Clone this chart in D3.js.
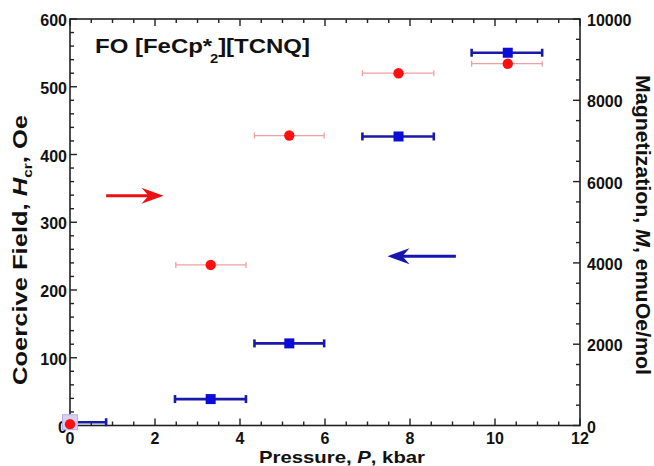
<!DOCTYPE html>
<html>
<head>
<meta charset="utf-8">
<script src="https://cdn.jsdelivr.net/npm/d3@7"></script>
<style>
  html, body { margin: 0; padding: 0; background: #fff; }
  svg { display: block; }
  text { font-family: "Liberation Sans", Arial, Helvetica, sans-serif; font-weight: bold; fill: #111; }
</style>
</head>
<body>
<svg id="chart" width="654" height="466"></svg>
<script>
// ---------- data ----------
const titleMain = "FO [FeCp*";
const titleSub = "2";
const titleEnd = "][TCNQ]";
const xLabel = ["Pressure, ", "P", ", kbar"];
const yLeftLabel = ["Coercive Field, ", "H", "cr", ", Oe"];
const yRightLabel = ["Magnetization, ", "M", ", emuOe/mol"];

const xTicks = [0, 2, 4, 6, 8, 10, 12];
const yLeftTicks = [0, 100, 200, 300, 400, 500, 600];
const yRightTicks = [0, 2000, 4000, 6000, 8000, 10000];

// Coercive field (left axis), red circles
const hcP    = [0,    3.31, 5.16, 7.73, 10.30];
const hcVal  = [2,    237,  428,  520,  534];
const hcPLo  = [null, 2.49, 4.34, 6.88, 9.45];
const hcPHi  = [null, 4.14, 5.98, 8.56, 11.11];

// Magnetization (right axis), blue squares
const mP     = [0,    3.31, 5.16, 7.73, 10.30];
const mVal   = [80,   650,  2020, 7110, 9170];
const mPLo   = [0,    2.47, 4.34, 6.88, 9.45];
const mPHi   = [0.85, 4.14, 5.98, 8.56, 11.11];

// annotation arrows (pressure from -> to, at a coercive-field level)
const arrowRed  = {from: 0.85, to: 2.20, level: 339};
const arrowBlue = {from: 9.08, to: 7.47, level: 250};

// ---------- layout ----------
const L = 70, R = 580, T = 19, B = 425.5;
const svg = d3.select("#chart");

const x = d3.scaleLinear().domain([0, 12]).range([L, R]);
const yL = d3.scaleLinear().domain([0, 600]).range([B, T]);
const yR = d3.scaleLinear().domain([0, 10000]).range([B, T]);

const axisColor = "#222";
const red = "#ff1010", redErr = "#f0a0a0";
const blue = "#0c0cd8", blueErr = "#1a1aa8";

// frame
svg.append("rect").attr("x", L).attr("y", T).attr("width", R - L).attr("height", B - T)
  .attr("fill", "none").attr("stroke", axisColor).attr("stroke-width", 1.6);

// ticks helper
function ticks(g, vals, pos, len, orient) {
  vals.forEach(v => {
    const p = pos(v);
    let x1, y1, x2, y2;
    if (orient === "bottom") { x1 = x2 = p; y1 = B; y2 = B - len; }
    if (orient === "top")    { x1 = x2 = p; y1 = T; y2 = T + len; }
    if (orient === "left")   { y1 = y2 = p; x1 = L; x2 = L + len; }
    if (orient === "right")  { y1 = y2 = p; x1 = R; x2 = R - len; }
    g.append("line").attr("x1", x1).attr("y1", y1).attr("x2", x2).attr("y2", y2)
      .attr("stroke", axisColor).attr("stroke-width", 1.4);
  });
}
const tg = svg.append("g");
const xMinor = d3.range(0, 12.001, 0.5).filter(v => v % 2 !== 0);
ticks(tg, xTicks, x, 7, "bottom"); ticks(tg, xMinor, x, 4, "bottom");
ticks(tg, xTicks, x, 7, "top");    ticks(tg, xMinor, x, 4, "top");
const ylMinor = d3.range(0, 600.1, 20).filter(v => v % 100 !== 0);
ticks(tg, yLeftTicks, yL, 7, "left"); ticks(tg, ylMinor, yL, 4, "left");
const yrMinor = d3.range(0, 10000.1, 500).filter(v => v % 2000 !== 0);
ticks(tg, yRightTicks, yR, 7, "right"); ticks(tg, yrMinor, yR, 4, "right");

// tick labels
const fs = 16;
svg.append("g").selectAll("text").data(xTicks).join("text")
  .attr("x", d => x(d)).attr("y", 443.5).attr("text-anchor", "middle")
  .attr("font-size", fs).text(d => d);
svg.append("g").selectAll("text").data(yLeftTicks).join("text")
  .attr("x", 67).attr("y", d => yL(d) + 7).attr("text-anchor", "end")
  .attr("font-size", fs).text(d => d);
svg.append("g").selectAll("text").data(yRightTicks).join("text")
  .attr("x", 587).attr("y", d => yR(d) + 7).attr("text-anchor", "start")
  .attr("font-size", fs).text(d => d);

// axis titles
const xl = svg.append("text").attr("x", 259).attr("y", 462.5).attr("font-size", 16.5)
  .attr("textLength", 166).attr("lengthAdjust", "spacingAndGlyphs");
xl.append("tspan").text(xLabel[0]);
xl.append("tspan").attr("font-style", "italic").text(xLabel[1]);
xl.append("tspan").text(xLabel[2]);

const yl = svg.append("text").attr("transform", "translate(27,385) rotate(-90)")
  .attr("font-size", 20).attr("textLength", 270).attr("lengthAdjust", "spacingAndGlyphs");
yl.append("tspan").text(yLeftLabel[0]);
yl.append("tspan").attr("font-style", "italic").text(yLeftLabel[1]);
yl.append("tspan").attr("font-size", 12).attr("dy", 5).text(yLeftLabel[2]);
yl.append("tspan").attr("dy", -5).text(yLeftLabel[3]);

const yr = svg.append("text").attr("transform", "translate(636,75) rotate(90)")
  .attr("font-size", 20).attr("textLength", 300).attr("lengthAdjust", "spacingAndGlyphs");
yr.append("tspan").text(yRightLabel[0]);
yr.append("tspan").attr("font-style", "italic").text(yRightLabel[1]);
yr.append("tspan").text(yRightLabel[2]);

// title
const tt = svg.append("text").attr("x", 95).attr("y", 53).attr("font-size", 21)
  .attr("textLength", 215).attr("lengthAdjust", "spacingAndGlyphs");
tt.append("tspan").text(titleMain);
tt.append("tspan").attr("font-size", 13).attr("dy", 10).attr("dx", -2).text(titleSub);
tt.append("tspan").attr("dy", -10).text(titleEnd);

// error bars helper
function errBars(g, P, Lo, Hi, V, yScale, color, w, cap) {
  P.forEach((p, i) => {
    if (Lo[i] == null) return;
    const yy = yScale(V[i]);
    const x1 = x(Lo[i]), x2 = x(Hi[i]);
    g.append("line").attr("x1", x1).attr("x2", x2).attr("y1", yy).attr("y2", yy)
      .attr("stroke", color).attr("stroke-width", w);
    [Lo[i], Hi[i]].forEach((e, k) => {
      if (e === 0) return;
      g.append("line").attr("x1", x(e)).attr("x2", x(e)).attr("y1", yy - cap).attr("y2", yy + cap)
        .attr("stroke", color).attr("stroke-width", w);
    });
  });
}

const dg = svg.append("g");
// magnetization (blue)
errBars(dg, mP, mPLo, mPHi, mVal, yR, blueErr, 2.6, 4);
dg.selectAll("rect.m").data(mP).join("rect").attr("class", "m")
  .attr("x", (d, i) => x(d) - (i === 0 ? 7.5 : 5))
  .attr("y", (d, i) => yR(mVal[i]) - (i === 0 ? 7.5 : 5))
  .attr("width", (d, i) => i === 0 ? 15 : 10)
  .attr("height", (d, i) => i === 0 ? 15 : 10)
  .attr("fill", (d, i) => i === 0 ? "#d6d0f4" : blue)
  .attr("stroke", (d, i) => i === 0 ? "#b8b0ea" : "none");

// coercive field (red)
errBars(dg, hcP, hcPLo, hcPHi, hcVal, yL, redErr, 1.3, 3);
dg.selectAll("circle.h").data(hcP).join("circle").attr("class", "h")
  .attr("cx", d => x(d)).attr("cy", (d, i) => yL(hcVal[i])).attr("r", 5.2)
  .attr("fill", red);

// arrows
function arrow(a, color) {
  const y0 = yL(a.level);
  const x0 = x(a.from), x1 = x(a.to);
  const dir = Math.sign(x1 - x0);
  svg.append("line").attr("x1", x0).attr("x2", x1 - dir * 8).attr("y1", y0).attr("y2", y0)
    .attr("stroke", color).attr("stroke-width", 3);
  const hb = x1 - dir * 22, notch = x1 - dir * 15;
  svg.append("path")
    .attr("d", `M${x1},${y0} L${hb},${y0 - 8} L${notch},${y0} L${hb},${y0 + 8} Z`)
    .attr("fill", color);
}
arrow(arrowRed, "#ee1111");
arrow(arrowBlue, "#1515b0");
</script>
</body>
</html>
